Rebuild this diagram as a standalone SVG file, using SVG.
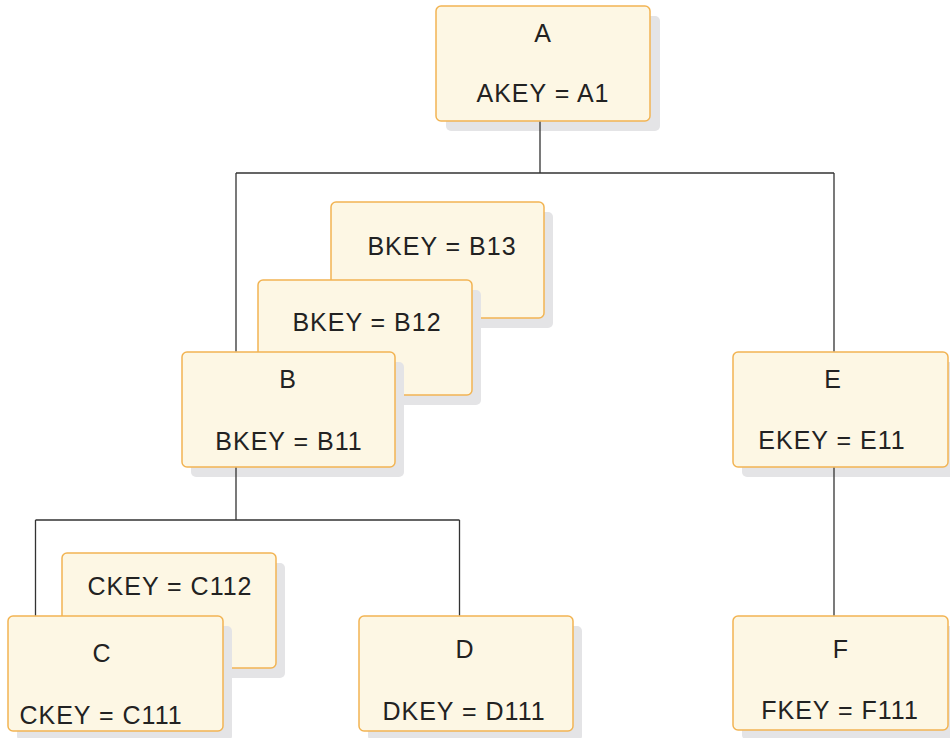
<svg xmlns="http://www.w3.org/2000/svg" width="950" height="738" viewBox="0 0 950 738">
<style>
.sh{fill:#e4e4e6}
.bx{fill:#fdf7e4;stroke:#f2b453;stroke-width:1.5}
.t{font-family:"Liberation Sans",Arial,sans-serif;font-size:25px;fill:#222;text-anchor:middle;letter-spacing:1px}
.c{fill:none;stroke:#333;stroke-width:1.3}
</style>
<rect width="950" height="738" fill="#fff"/>
<g id="A">
<rect class="sh" x="446" y="16" width="214" height="115" rx="5"/>
<rect class="bx" x="436" y="6" width="214" height="115" rx="5"/>
<text class="t" x="543" y="42">A</text>
<text class="t" x="543" y="102">AKEY = A1</text>
</g>
<g id="B13">
<rect class="sh" x="340" y="212" width="213" height="116" rx="5"/>
<rect class="bx" x="331" y="202" width="213" height="116" rx="5"/>
<text class="t" x="442" y="255">BKEY = B13</text>
</g>
<g id="B12">
<rect class="sh" x="267" y="290" width="214" height="115" rx="5"/>
<rect class="bx" x="258" y="280" width="214" height="115" rx="5"/>
<text class="t" x="367" y="331">BKEY = B12</text>
</g>
<g id="B">
<rect class="sh" x="191" y="362" width="213" height="115" rx="5"/>
<rect class="bx" x="182" y="352" width="213" height="115" rx="5"/>
<text class="t" x="288" y="388">B</text>
<text class="t" x="289" y="450">BKEY = B11</text>
</g>
<g id="E">
<rect class="sh" x="742" y="362" width="215" height="115" rx="5"/>
<rect class="bx" x="733" y="352" width="215" height="115" rx="5"/>
<text class="t" x="833" y="388">E</text>
<text class="t" x="832" y="449">EKEY = E11</text>
</g>
<g id="C112">
<rect class="sh" x="71" y="563" width="214" height="115" rx="5"/>
<rect class="bx" x="62" y="553" width="214" height="115" rx="5"/>
<text class="t" x="170" y="595">CKEY = C112</text>
</g>
<g id="C">
<rect class="sh" x="17" y="626" width="215" height="115" rx="5"/>
<rect class="bx" x="8" y="616" width="215" height="115" rx="5"/>
<text class="t" x="102" y="662">C</text>
<text class="t" x="101" y="724">CKEY = C111</text>
</g>
<g id="D">
<rect class="sh" x="368" y="626" width="214" height="115" rx="5"/>
<rect class="bx" x="359" y="616" width="214" height="115" rx="5"/>
<text class="t" x="465" y="658">D</text>
<text class="t" x="464" y="720">DKEY = D111</text>
</g>
<g id="F">
<rect class="sh" x="742" y="626" width="215" height="114" rx="5"/>
<rect class="bx" x="733" y="616" width="215" height="114" rx="5"/>
<text class="t" x="841" y="658">F</text>
<text class="t" x="840" y="719">FKEY = F111</text>
</g>
<g id="connectors">
<path class="c" d="M540,121.8V173M236,173H834M236,173V351.3M834,173V351.3"/>
<path class="c" d="M236,467.8V520M35.5,520H459.5M35.5,520V615.3M459.5,520V615.3"/>
<path class="c" d="M834,467.8V615.3"/>
</g>
</svg>
